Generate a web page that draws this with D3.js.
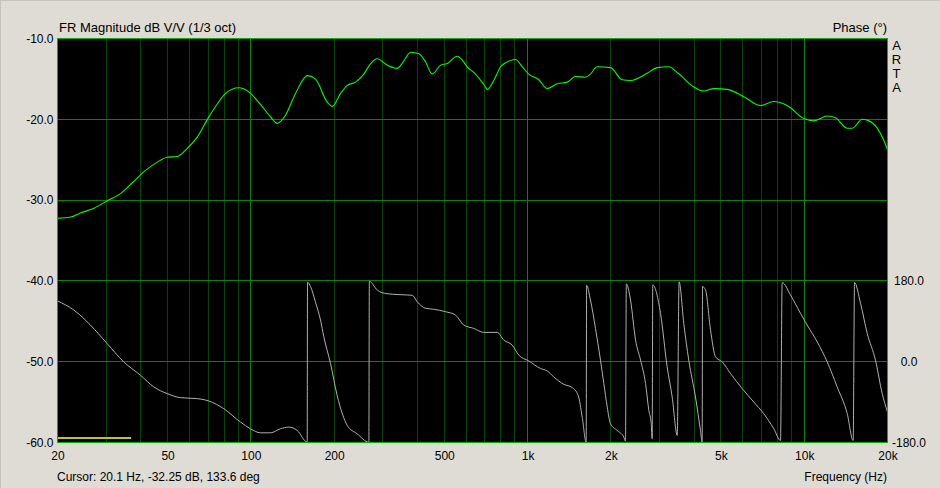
<!DOCTYPE html>
<html>
<head>
<meta charset="utf-8">
<script src="https://cdn.jsdelivr.net/npm/d3@7"></script>
<style>
  html, body { margin: 0; padding: 0; background: #dfdcd5; }
  svg { display: block; }
  text { font-family: "Liberation Sans", Arial, sans-serif; fill: #000; }
</style>
</head>
<body>
<svg id="chart" width="940" height="488"></svg>
<script>
// ---- data ----
const magFreq = [20, 22.3, 24.2, 27.1, 30.2, 33.8, 37.7, 41.0, 45.9, 49.8, 54.2, 58.9, 64.0, 70.5, 75.6,
  81.0, 90.4, 98.3, 106.8, 117.8, 124.5, 133.4, 145, 160, 171, 189, 197, 211, 223, 239,
  256, 271, 286, 311, 338, 352, 378, 405, 428, 452, 485, 512, 557, 588, 605,
  639, 705, 715, 755, 799, 844, 905, 957, 1010, 1098, 1178, 1280, 1391, 1491, 1620,
  1688, 1785, 1994, 2198, 2356, 2706, 2942, 3240, 3476, 3991, 4336, 4713, 5268, 6050, 6951,
  7764, 8681, 9964, 10830, 12106, 12972, 14302, 14910, 16202, 16892, 18358, 19392, 20000];
const magDb = [-32.26, -32.1, -31.6, -31.0, -30.1, -29.2, -27.7, -26.5, -25.3, -24.7, -24.6, -23.6, -22.2, -19.7, -18.1,
  -16.8, -16.1, -16.6, -17.9, -19.7, -20.5, -19.5, -16.8, -14.6, -15.0, -17.9, -18.4, -16.8, -15.8, -15.4,
  -14.4, -13.1, -12.5, -13.3, -13.7, -13.1, -11.7, -11.9, -12.9, -14.4, -13.3, -13.1, -12.2, -12.9, -13.5,
  -14.2, -16.0, -16.3, -15.2, -13.5, -12.9, -12.6, -13.5, -14.4, -15.1, -16.2, -15.6, -15.4, -14.7, -14.8,
  -14.4, -13.5, -13.6, -15.1, -15.2, -14.3, -13.6, -13.5, -14.2, -16.0, -16.5, -16.2, -16.3, -17.2, -18.3,
  -17.8, -18.3, -19.9, -20.2, -19.6, -19.8, -21.1, -21.1, -20.0, -20.1, -21.1, -22.6, -23.8];

const phaseFreq = [20, 22.9, 26.3, 30.2, 34.7, 39.9, 44.6, 49.8, 55.7, 64.0, 70.5, 79.8, 91.7, 99.7, 108.3,
  117.8, 127.9, 137.1, 147.1, 159.8, 160.2, 164.3, 171, 178.5, 183.5, 194, 205, 214, 223, 242,
  267, 268, 286, 298, 324, 383, 399, 428, 458, 505, 549, 588, 639, 695, 777,
  821, 880, 930, 1010, 1114, 1178, 1244, 1352, 1450, 1524, 1576, 1629, 1635, 1688, 1760,
  1835, 1887, 1941, 1994, 2108, 2228, 2260, 2275, 2356, 2457, 2562, 2670, 2744, 2799, 2822,
  2835, 3024, 3196, 3333, 3476, 3530, 3670, 3826, 4046, 4217, 4277, 4290, 4398, 4586, 4780,
  5054, 5416, 5970, 6574, 7144, 7764, 8210, 8326, 8920, 9692, 10248, 11140, 12106, 13157, 14302,
  15031, 15200, 15978, 16892, 18098, 19136, 20000];
const phaseDeg = [135.3, 115.2, 81.6, 40.7, -0.4, -30.2, -56.3, -71.1, -80.1, -82.3, -87.6, -104.7, -134.5, -149.4, -158.4,
  -158.4, -149.4, -145.7, -153.2, -179.3, 177, 167.3, 133.7, 92.8, 55.5, -4, -74.9, -115.8, -142, -160.5,
  -179.3, 179, 159.9, 153.8, 150.3, 148, 133.7, 119, 116.8, 111.4, 104, 81.6, 74.2, 65.3, 65.3,
  48.1, 36.9, 14.5, 1.8, -15.2, -20.6, -34, -50.3, -57.7, -74.9, -123.4, -179.3, 170, 137.5, 74.2,
  3.4, -48.7, -101, -138.2, -153.2, -168, -177, 173.3, 137.5, 48.1, 3.4, -48.7, -108.4, -138.2, -171.7,
  171, 107.8, -11.6, -78.7, -164.3, 178, 85.4, 3.4, -78.7, -153.2, -179.3, 167.3, 159.9, 70.4, 10.7,
  -0.4, -26.4, -60, -89.9, -115.8, -149.4, -175.5, 176.2, 148.7, 107.8, 81.6, 44.3, -0.4, -56.3, -115.8,
  -175.5, 176.2, 130.3, 63.1, 3.4, -71.1, -112.3];

const xTickValues = [20, 50, 100, 200, 500, 1000, 2000, 5000, 10000, 20000];
const xTickLabels = ["20", "50", "100", "200", "500", "1k", "2k", "5k", "10k", "20k"];
const xMinorGrid = [30, 40, 50, 60, 70, 80, 90, 200, 300, 400, 500, 600, 700, 800, 900,
  2000, 3000, 4000, 5000, 6000, 7000, 8000, 9000];
const xMajorGrid = [100, 1000, 10000];
const yTickValues = [-10, -20, -30, -40, -50, -60];
const phaseTickValues = [180, 0, -180];
const cursorBandFreq = [20, 36.9];

const titleLeft = "FR Magnitude dB V/V (1/3 oct)";
const titleRight = "Phase (\u00b0)";
const cursorText = "Cursor: 20.1 Hz, -32.25 dB, 133.6 deg";
const xAxisTitle = "Frequency (Hz)";
const brand = ["A", "R", "T", "A"];

// ---- layout ----
const svg = d3.select("#chart");
const L = 57.5, R = 887.5, T = 38.5, B = 442.5;

const x = d3.scaleLog().domain([20, 20000]).range([L, R]);
const y = d3.scaleLinear().domain([-60, -10]).range([B, T]);
const yP = d3.scaleLinear().domain([-180, 180]).range([y(-60), y(-40)]);
const fmt1 = v => v.toFixed(1);
const px = v => Math.round(v - 0.5) + 0.5;

// window frame lines
svg.append("rect").attr("x", 0).attr("y", 0).attr("width", 940).attr("height", 488).attr("fill", "#dfdcd5");
svg.append("line").attr("x1", 0).attr("x2", 940).attr("y1", 0.5).attr("y2", 0.5).attr("stroke", "#c6c3bb");
svg.append("line").attr("x1", 0.5).attr("x2", 0.5).attr("y1", 0).attr("y2", 488).attr("stroke", "#c6c3bb");

// plot background
svg.append("rect").attr("x", L).attr("y", T).attr("width", R - L).attr("height", B - T).attr("fill", "#000");

const grid = svg.append("g").attr("shape-rendering", "crispEdges");
grid.selectAll("line.minor").data(xMinorGrid).join("line")
  .attr("class", "minor")
  .attr("x1", d => px(x(d))).attr("x2", d => px(x(d)))
  .attr("y1", T).attr("y2", B).attr("stroke", "#004800").attr("stroke-width", 1);
grid.selectAll("line.major").data(xMajorGrid).join("line")
  .attr("class", "major")
  .attr("x1", d => px(x(d))).attr("x2", d => px(x(d)))
  .attr("y1", T).attr("y2", B).attr("stroke", "#008800").attr("stroke-width", 1);
grid.selectAll("line.h").data(yTickValues.slice(1, -1)).join("line")
  .attr("class", "h")
  .attr("x1", L).attr("x2", R)
  .attr("y1", d => px(y(d))).attr("y2", d => px(y(d)))
  .attr("stroke", "#008800").attr("stroke-width", 1);

// cursor band (yellow)
svg.append("rect")
  .attr("x", x(cursorBandFreq[0])).attr("width", x(cursorBandFreq[1]) - x(cursorBandFreq[0]))
  .attr("y", B - 5.5).attr("height", 2).attr("fill", "#c8c800");

// phase curve
const phaseData = phaseFreq.map((f, i) => [f, phaseDeg[i]]);
svg.append("path").datum(phaseData)
  .attr("fill", "none").attr("stroke", "#b0b0b0").attr("stroke-width", 1)
  .attr("d", d3.line().x(d => x(d[0])).y(d => yP(d[1])).curve(d3.curveMonotoneX));

// magnitude curve
const magData = magFreq.map((f, i) => [f, magDb[i]]);
svg.append("path").datum(magData)
  .attr("fill", "none").attr("stroke", "#00ff00").attr("stroke-width", 1.1)
  .attr("d", d3.line().x(d => x(d[0])).y(d => y(d[1])).curve(d3.curveMonotoneX));

// border
svg.append("rect").attr("x", L).attr("y", T).attr("width", R - L).attr("height", B - T)
  .attr("fill", "none").attr("stroke", "#00b400").attr("stroke-width", 1).attr("shape-rendering", "crispEdges");

// axes (labels only)
const xAxis = d3.axisBottom(x).tickValues(xTickValues).tickFormat((d, i) => xTickLabels[i]).tickSize(0).tickPadding(9);
const gx = svg.append("g").attr("transform", `translate(0,${B})`).call(xAxis);
gx.select(".domain").remove();
gx.selectAll("text").attr("font-size", 12).attr("font-family", "Liberation Sans, Arial, sans-serif").attr("fill", "#000");

const yAxis = d3.axisLeft(y).tickValues(yTickValues).tickFormat(fmt1).tickSize(0).tickPadding(4);
const gy = svg.append("g").attr("transform", `translate(${L},0)`).call(yAxis);
gy.select(".domain").remove();
gy.selectAll("text").attr("font-size", 12).attr("font-family", "Liberation Sans, Arial, sans-serif").attr("fill", "#000");

const pAxis = d3.axisRight(yP).tickValues(phaseTickValues).tickFormat(fmt1).tickSize(0).tickPadding(0);
const gp = svg.append("g").attr("transform", `translate(909,0)`).call(pAxis);
gp.select(".domain").remove();
gp.selectAll("text").attr("font-size", 12).attr("font-family", "Liberation Sans, Arial, sans-serif")
  .attr("fill", "#000").attr("text-anchor", "middle");

// titles
svg.append("text").attr("x", 59).attr("y", 32).attr("font-size", 13).text(titleLeft);
svg.append("text").attr("x", 887).attr("y", 32).attr("font-size", 13).attr("text-anchor", "end").text(titleRight);
svg.append("text").attr("x", 57).attr("y", 481).attr("font-size", 12).text(cursorText);
svg.append("text").attr("x", 887).attr("y", 481).attr("font-size", 12).attr("text-anchor", "end").text(xAxisTitle);
svg.append("g").selectAll("text").data(brand).join("text")
  .attr("x", 896.5).attr("y", (d, i) => 50 + i * 14).attr("font-size", 13).attr("text-anchor", "middle").text(d => d);
</script>
</body>
</html>
